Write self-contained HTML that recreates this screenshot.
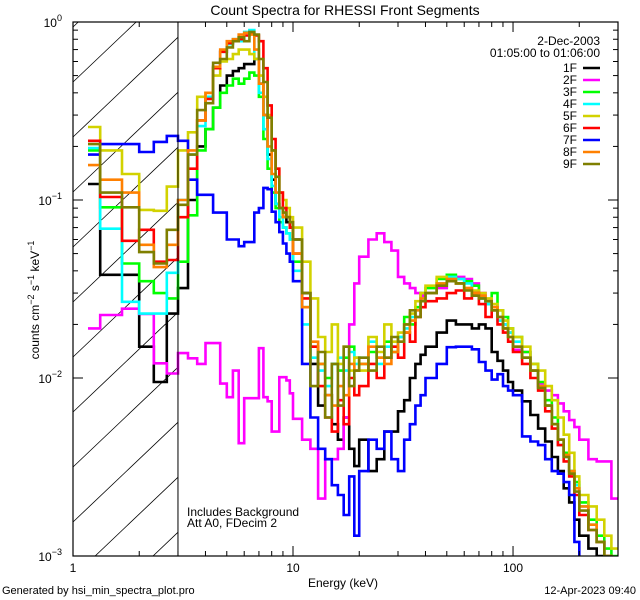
<!DOCTYPE html>
<html><head><meta charset="utf-8">
<style>
html,body{margin:0;padding:0;background:#fff;width:640px;height:600px;overflow:hidden;}
svg{display:block;font-family:"Liberation Sans",sans-serif;}
</style></head>
<body>
<svg id="chart" width="640" height="600" viewBox="0 0 640 600" xmlns="http://www.w3.org/2000/svg">
<defs><clipPath id="plotclip"><rect x="73" y="22" width="545" height="534"/></clipPath>
<clipPath id="hatchclip"><rect x="73" y="22" width="104.5" height="534"/></clipPath></defs>
<text x="345" y="15" text-anchor="middle" font-size="14">Count Spectra for RHESSI Front Segments</text>
<g id="hatch" clip-path="url(#hatchclip)"></g>
<g id="series" clip-path="url(#plotclip)"></g>
<g id="axes"></g>
<text x="187" y="516" font-size="12">Includes Background</text>
<text x="187" y="527" font-size="12">Att A0, FDecim 2</text>
<text x="343" y="587" text-anchor="middle" font-size="12">Energy (keV)</text>
<text transform="translate(39,300) rotate(-90)" text-anchor="middle" font-size="12">counts cm<tspan dy="-5" font-size="9">−2</tspan><tspan dy="5"> s</tspan><tspan dy="-5" font-size="9">−1</tspan><tspan dy="5"> keV</tspan><tspan dy="-5" font-size="9">−1</tspan></text>
<text x="2" y="594" font-size="11">Generated by hsi_min_spectra_plot.pro</text>
<text x="636" y="594" text-anchor="end" font-size="11">12-Apr-2023 09:40</text>
<g id="legend">
<text x="600" y="45" text-anchor="end" font-size="12">2-Dec-2003</text>
<text x="600" y="57" text-anchor="end" font-size="12">01:05:00 to 01:06:00</text>
</g>
</svg>
<script>
const edges=[1.17,1.33,1.67,2,2.33,2.67,3,3.333,3.667,4,4.333,4.667,5,5.333,5.667,6,6.333,6.667,7,7.333,7.667,8,8.333,8.667,9,9.333,9.667,10,11,12,13,14,15,16,17,18,19,20,22,24,26,28,30,32,34,36,38,40,45,50,55,60,65,70,75,80,85,90,95,100,110,120,130,140,150,160,170,180,190,200,220,240,260,280,300];
const names=["1F","2F","3F","4F","5F","6F","7F","8F","9F"];
const colors=["#000000","#ff00ff","#00ff00","#00ffff","#d2d200","#ff0000","#0000ff","#ff8000","#7f7f00"];
const s1F=[0.123,0.038,0.038,0.015,0.0095,0.023, 0.032,0.1,0.2,0.25,0.33,0.44,0.5,0.53,0.55,0.58,0.58,0.62,0.45,0.3,0.18,0.13,0.095,0.09,0.08,0.075,0.07, 0.06,0.03,0.012,0.007,0.008,0.0055,0.0045,0.006,0.004,0.0032, 0.0045,0.003,0.0035,0.005,0.005,0.0065,0.0075,0.01,0.012,0.0135, 0.015,0.018,0.021,0.02,0.02,0.019,0.02,0.019,0.014,0.0125,0.011,0.0095, 0.0085,0.0074,0.0062,0.0052,0.0044,0.0036,0.003,0.0024,0.002,0.0016, 0.0013,0.0011,0.001,0.0009,0.0008];
const s2F=[0.019,0.0226,0.0245,0.0229,0.0121,0.0106, 0.0138,0.0129,0.012,0.0157,0.0157,0.0093,0.0078,0.011,0.0043,0.0077,0.0077,0.0077,0.0147,0.0078,0.0074,0.005,0.005,0.0101,0.0101,0.0097,0.0082, 0.0059,0.0045,0.004,0.0021,0.0035,0.0035,0.004,0.006,0.02,0.034, 0.048,0.06,0.065,0.058,0.052,0.037,0.034,0.032,0.03,0.029, 0.03,0.032,0.036,0.037,0.036,0.034,0.03,0.027,0.025,0.022,0.02,0.018, 0.0144,0.014,0.011,0.0093,0.0085,0.008,0.0072,0.0065,0.0058,0.0053, 0.0045,0.0035,0.0034,0.0034,0.0021];
const s3F=[0.19,0.091,0.044,0.035,0.03,0.028, 0.045,0.082,0.19,0.25,0.33,0.4,0.44,0.48,0.45,0.48,0.52,0.5,0.38,0.22,0.15,0.11,0.09,0.075,0.07,0.065,0.06, 0.045,0.025,0.015,0.012,0.01,0.012,0.011,0.013,0.015,0.013, 0.012,0.014,0.013,0.016,0.014,0.017,0.022,0.02,0.025,0.03, 0.032,0.036,0.038,0.036,0.035,0.033,0.028,0.026,0.03,0.024,0.022,0.019, 0.017,0.014,0.012,0.0095,0.0075,0.006,0.0045,0.0038,0.003,0.0026, 0.002,0.0016,0.0013,0.0011,0.001];
const s4F=[0.196,0.069,0.0268,0.023,0.023,0.039, 0.1,0.18,0.26,0.38,0.56,0.68,0.75,0.8,0.78,0.88,0.9,0.62,0.4,0.25,0.17,0.12,0.095,0.08,0.07,0.065,0.06, 0.04,0.02,0.013,0.011,0.009,0.012,0.013,0.011,0.014,0.012, 0.013,0.016,0.012,0.015,0.015,0.017,0.019,0.022,0.024,0.028, 0.03,0.034,0.037,0.036,0.034,0.03,0.028,0.026,0.024,0.021,0.02,0.018, 0.016,0.013,0.011,0.009,0.007,0.0055,0.0042,0.0036,0.003,0.0025, 0.0019,0.0015,0.0012,0.001,0.0009];
const s5F=[0.257,0.19,0.14,0.088,0.087,0.119, 0.19,0.24,0.38,0.4,0.5,0.6,0.62,0.66,0.7,0.7,0.66,0.62,0.5,0.38,0.3,0.19,0.15,0.11,0.1,0.09,0.08, 0.07,0.045,0.028,0.017,0.014,0.02,0.012,0.015,0.011,0.013, 0.011,0.017,0.014,0.02,0.016,0.018,0.02,0.023,0.027,0.03, 0.033,0.037,0.036,0.034,0.032,0.031,0.03,0.028,0.026,0.024,0.021,0.019, 0.017,0.015,0.012,0.011,0.009,0.0075,0.006,0.0048,0.0038,0.0028, 0.0022,0.0019,0.0016,0.0013,0.0011];
const s6F=[0.215,0.104,0.059,0.068,0.045,0.046, 0.08,0.15,0.28,0.37,0.55,0.68,0.76,0.78,0.8,0.84,0.86,0.84,0.78,0.55,0.34,0.22,0.15,0.11,0.09,0.08,0.07, 0.05,0.028,0.015,0.009,0.006,0.005,0.0075,0.0055,0.01,0.008, 0.009,0.012,0.01,0.013,0.015,0.013,0.018,0.016,0.022,0.025, 0.027,0.028,0.03,0.031,0.028,0.03,0.026,0.022,0.024,0.02,0.018,0.016, 0.014,0.012,0.01,0.0085,0.0065,0.0052,0.0042,0.0034,0.0028,0.0022, 0.0017,0.0014,0.0012,0.001,0.0009];
const s7F=[0.18,0.206,0.206,0.186,0.212,0.229, 0.215,0.13,0.107,0.107,0.085,0.085,0.06,0.06,0.055,0.058,0.058,0.085,0.09,0.117,0.115,0.086,0.075,0.066,0.057,0.05,0.045, 0.035,0.012,0.006,0.004,0.0035,0.0025,0.0022,0.0017,0.0028,0.0013, 0.003,0.0045,0.004,0.005,0.0035,0.003,0.0045,0.0055,0.007,0.008, 0.01,0.012,0.0149,0.015,0.015,0.0145,0.0123,0.011,0.0098,0.0105,0.009,0.0085, 0.008,0.0047,0.0044,0.0042,0.0035,0.003,0.0029,0.0026,0.0022,0.0012, 0.0008,0.0008,0.0008,0.0008,0.0008];
const s8F=[0.157,0.13,0.11,0.056,0.042,0.056, 0.1,0.19,0.28,0.4,0.56,0.7,0.78,0.8,0.85,0.87,0.85,0.7,0.45,0.3,0.2,0.14,0.11,0.09,0.08,0.08,0.075, 0.05,0.025,0.016,0.012,0.008,0.007,0.009,0.008,0.012,0.011, 0.012,0.015,0.013,0.012,0.014,0.016,0.018,0.021,0.024,0.028, 0.03,0.034,0.036,0.034,0.032,0.03,0.029,0.027,0.025,0.022,0.019,0.017, 0.015,0.013,0.011,0.009,0.007,0.0055,0.0045,0.0037,0.003,0.0024, 0.0019,0.0015,0.0012,0.001,0.0009];
const s9F=[0.206,0.11,0.091,0.051,0.044,0.068, 0.094,0.18,0.32,0.35,0.59,0.62,0.72,0.78,0.82,0.78,0.88,0.85,0.62,0.46,0.29,0.19,0.135,0.09,0.085,0.08,0.075, 0.06,0.03,0.009,0.014,0.006,0.012,0.007,0.015,0.009,0.011, 0.013,0.011,0.015,0.013,0.017,0.016,0.02,0.024,0.022,0.027, 0.03,0.033,0.035,0.034,0.031,0.029,0.028,0.027,0.024,0.022,0.019,0.017, 0.015,0.013,0.011,0.0088,0.007,0.0055,0.0045,0.0036,0.0029,0.0023, 0.0018,0.0014,0.0012,0.001,0.0009];
const seriesData=[s1F,s2F,s3F,s4F,s5F,s6F,s7F,s8F,s9F];
const xTickMajor=[1,10,100];
const xTickLabels=["1","10","100"];
const yTickExp=[0,-1,-2,-3];

const NS="http://www.w3.org/2000/svg";
const L=73,R=618,T=22,B=556;
const XMIN=1,XMAX=300,YMIN=0.001,YMAX=1;
function xs(e){return L+(Math.log10(e)-Math.log10(XMIN))/(Math.log10(XMAX)-Math.log10(XMIN))*(R-L);}
function ys(v){v=Math.max(v,YMIN*0.5);return T+(Math.log10(YMAX)-Math.log10(v))/(Math.log10(YMAX)-Math.log10(YMIN))*(B-T);}
function mk(tag,attrs,parent){const el=document.createElementNS(NS,tag);for(const k in attrs)el.setAttribute(k,attrs[k]);parent.appendChild(el);return el;}

// hatch: lines y = c - k*(x-L), clipped manually to [L, X3] x [T, B]
const hatch=document.getElementById('hatch');
const X3=xs(3), K=0.95;
for(let c=T+5;c<B+K*(X3-L);c+=55){
  let xa=L, ya=c;
  if(ya>B){xa=L+(ya-B)/K; ya=B;}
  let xb=X3, yb=c-K*(X3-L);
  if(yb<T){xb=L+(c-T)/K; yb=T;}
  if(xa>=xb) continue;
  const ln=mk('line',{x1:xa,y1:ya,x2:xb,y2:yb,stroke:'#000','stroke-width':0.8},hatch);
  
  
}
const vline=mk('line',{x1:X3,y1:T,x2:X3,y2:B,stroke:'#000','stroke-width':1},document.getElementById('axes'));



const sg=document.getElementById('series');
seriesData.forEach((vals,i)=>{
  let d='';
  for(let b=0;b<vals.length;b++){
    const x0=xs(edges[b]).toFixed(1),x1=xs(edges[b+1]).toFixed(1),y=Math.min(ys(vals[b]),B+3).toFixed(1);
    d+=(b===0?'M':'L')+x0+','+y+'L'+x1+','+y;
  }
  const p=mk('path',{d:d,fill:'none',stroke:colors[i],'stroke-width':2.6,'stroke-linejoin':'miter'},sg);
  
  
});

const ax=document.getElementById('axes');
const frame=mk('rect',{x:L,y:T,width:R-L,height:B-T,fill:'none',stroke:'#000','stroke-width':1.2},ax);


for(let dec=1;dec<=100;dec*=10){
  for(let m=1;m<=9;m++){
    const e=dec*m; if(e>XMAX) break;
    const x=xs(e),len=(m===1)?10:5;
    const t1=mk('line',{x1:x,y1:B,x2:x,y2:B-len,stroke:'#000','stroke-width':1},ax);
    
    
    const t2=mk('line',{x1:x,y1:T,x2:x,y2:T+len,stroke:'#000','stroke-width':1},ax);
    
    
  }
}
xTickMajor.forEach((e,i)=>{
  const t=mk('text',{x:xs(e),y:572,'text-anchor':'middle','font-size':12},ax);
  t.textContent=xTickLabels[i];
  
  
});
yTickExp.forEach(p=>{
  for(let m=1;m<=9;m++){
    const v=Math.pow(10,p)*m; if(v>YMAX*1.0001) break;
    if(p===-3&&m>1) break;
    const y=ys(v),len=(m===1)?10:5;
    const a=mk('line',{x1:L,y1:y,x2:L+len,y2:y,stroke:'#000','stroke-width':1},ax);
    
    
    const b=mk('line',{x1:R,y1:y,x2:R-len,y2:y,stroke:'#000','stroke-width':1},ax);
    
    
  }
  const t=mk('text',{x:62,y:ys(Math.pow(10,p))+5,'text-anchor':'end','font-size':12},ax);
  t.innerHTML='10<tspan dy="-6" font-size="9">'+(p===0?'0':'−'+(-p))+'</tspan>';
  
  
});

const lg=document.getElementById('legend');
names.forEach((n,i)=>{
  const y=68+i*12;
  const t=mk('text',{x:577,y:y+4,'text-anchor':'end','font-size':12},lg);
  t.textContent=n;
  
  
  const l=mk('line',{x1:583,y1:y,x2:600,y2:y,stroke:colors[i],'stroke-width':2.6},lg);
  
  
});
</script>
</body></html>
